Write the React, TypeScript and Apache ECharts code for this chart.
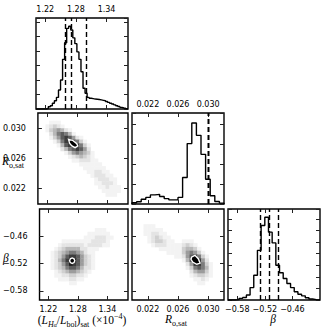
import React, { useEffect, useRef } from "react";
import * as echarts from "echarts";

// ---- axis ranges and tick values ----
const L_RANGE = [1.202, 1.382];
const R_RANGE = [0.0199, 0.0321];
const B_RANGE = [-0.6, -0.4];

const L_TICKS = [1.22, 1.28, 1.34];
const R_TICKS = [0.022, 0.026, 0.03];
const B_TICKS = [-0.58, -0.52, -0.46];

// ---- 1D histograms (normalised counts, bin edges start/step) ----
const L_HIST_START = 1.202;
const L_HIST_STEP = 0.004;
const L_HIST = [0, 0, 0, 0, 0, 0.005, 0.028, 0.04, 0.07, 0.1, 0.14, 0.23, 0.35, 0.6, 0.8, 0.975, 1.0, 0.955, 0.86, 0.79, 0.69, 0.6, 0.45, 0.25, 0.19, 0.14, 0.13, 0.125, 0.12, 0.118, 0.115, 0.11, 0.105, 0.1, 0.09, 0.08, 0.07, 0.06, 0.05, 0.04, 0.03, 0.02, 0.012, 0.006, 0.003];

const R_HIST_START = 0.0199;
const R_HIST_STEP = 0.00061;
const R_HIST = [0.016, 0.028, 0.057, 0.08, 0.11, 0.117, 0.09, 0.065, 0.05, 0.05, 0.08, 0.32, 0.73, 0.98, 0.83, 0.6, 0.3, 0.1, 0.03, 0.01];

const B_HIST_START = -0.6;
const B_HIST_STEP = 0.008;
const B_HIST = [0, 0, 0.005, 0.02, 0.03, 0.06, 0.15, 0.3, 0.6, 0.9, 1.0, 0.82, 0.69, 0.42, 0.33, 0.26, 0.2, 0.15, 0.1, 0.07, 0.05, 0.028, 0.012, 0.005, 0.002];

const HIST_MAX = 1.1;
const L_HIST_TICK_STEP = 0.175;
const R_HIST_TICK_STEP = 0.24;
const B_HIST_TICK_STEP = 0.14;

// ---- quantiles (dashed lines) ----
const L_QUANTILES = [1.2554, 1.273, 1.2959];
const R_QUANTILES = [0.02662, 0.02825, 0.02927];
const B_QUANTILES = [-0.5304, -0.512, -0.487];

// ---- 2D densities: rows from top (high y) to bottom, 24x24 cells, levels 0-9 ----
const DENSITY_CELLS = 24;
const DENSITY_L_R = [
  "000000000000000000000000",
  "000000000000000000000000",
  "000111000000000000000000",
  "001232100000000000000000",
  "001345421000000000000000",
  "000246764100000000000000",
  "000135787521000000000000",
  "000013689763100000000000",
  "000001478986310000000000",
  "000000246787520000000000",
  "000000013565431000000000",
  "000000001234321000000000",
  "000000000112221100000000",
  "000000000001111110000000",
  "000000000000111111000000",
  "000000000000011221100000",
  "000000000000001222110000",
  "000000000000000122211000",
  "000000000000000112221000",
  "000000000000000011211100",
  "000000000000000001111100",
  "000000000000000000111000",
  "000000000000000000000000",
  "000000000000000000000000",
];
const DENSITY_L_B = [
  "000000000000000000000000",
  "000000000000000000000000",
  "000000000000000000000000",
  "000000000000000000000000",
  "000000000000000000000000",
  "000000000000000111000000",
  "000000000000011111100000",
  "000000000000111222110000",
  "000000111111112222100000",
  "000001222222122221100000",
  "000012344442211100000000",
  "000123456654211000000000",
  "000123578875321000000000",
  "000124689975321000000000",
  "000123579875321000000000",
  "000123467764221000000000",
  "000012345543210000000000",
  "000011223322100000000000",
  "000001112211000000000000",
  "000000001100000000000000",
  "000000000000000000000000",
  "000000000000000000000000",
  "000000000000000000000000",
  "000000000000000000000000",
];
const DENSITY_R_B = [
  "000000000000000000000000",
  "000000000000000000000000",
  "000000000000000000000000",
  "000000000000000000000000",
  "000111000000000000000000",
  "000111110000000000000000",
  "000112211000000000000000",
  "000012321100000000000000",
  "000012332110011100000000",
  "000001222111123210000000",
  "000000011111134431000000",
  "000000000111135653100000",
  "000000000001125786310000",
  "000000000000014798520000",
  "000000000000002588631000",
  "000000000000001367641000",
  "000000000000000245531000",
  "000000000000000123321000",
  "000000000000000011210000",
  "000000000000000001100000",
  "000000000000000000000000",
  "000000000000000000000000",
  "000000000000000000000000",
  "000000000000000000000000",
];

// ---- innermost contours ----
const CONTOUR_L_R = [[1.2632, 0.02857], [1.2711, 0.02844], [1.2797, 0.02798], [1.2816, 0.02768], [1.2763, 0.02745], [1.2699, 0.02768], [1.2652, 0.02804]];
const CONTOUR_L_B = [[1.2738, -0.5136], [1.2722, -0.5094], [1.2685, -0.5076], [1.2648, -0.5094], [1.2632, -0.5136], [1.2648, -0.5178], [1.2685, -0.5196], [1.2722, -0.5178]];
const CONTOUR_R_B = [[0.02782, -0.5055], [0.02825, -0.5018], [0.02869, -0.5092], [0.02892, -0.5187], [0.02848, -0.5215], [0.02795, -0.5165], [0.02772, -0.5105]];

// ---- layout / style ----
const COL_LEFT = [36, 132, 228];
const ROW_TOP = [18, 113, 209];
const PANEL_W = 92;
const PANEL_H = 91;
const PALETTE = ["#ffffff", "#f3f3f3", "#e4e4e4", "#d0d0d0", "#b8b8b8", "#9c9c9c", "#7c7c7c", "#5c5c5c", "#3c3c3c", "#1e1e1e"];
const SANS = "DejaVu Sans";
const SERIF = "Liberation Serif";

const minus = (s: string) => s.replace("-", "\u2212");
const VARS: any = {
  L: { range: L_RANGE, ticks: L_TICKS, fmt: (v: number) => v.toFixed(2) },
  R: { range: R_RANGE, ticks: R_TICKS, fmt: (v: number) => v.toFixed(3) },
  B: { range: B_RANGE, ticks: B_TICKS, fmt: (v: number) => minus(v.toFixed(2)) },
};

function buildOption() {
  const grids: any[] = [];
  const xAxes: any[] = [];
  const yAxes: any[] = [];
  const series: any[] = [];

  const tickStyle = { color: "#222", width: 1 };

  function valueAxisBase(gi: number, pos: string, v: any, showLabel: boolean, margin: number) {
    return {
      type: "value",
      gridIndex: gi,
      position: pos,
      min: v.range[0],
      max: v.range[1],
      axisLine: { show: false, onZero: false },
      splitLine: { show: false },
      axisTick: { show: true, inside: true, length: 4, lineStyle: tickStyle, customValues: v.ticks },
      axisLabel: {
        show: showLabel,
        customValues: v.ticks,
        formatter: v.fmt,
        fontSize: 8,
        fontFamily: SANS,
        color: "#000",
        margin,
      },
    };
  }
  function histAxis(gi: number, pos: string, step: number) {
    return {
      type: "value",
      gridIndex: gi,
      position: pos,
      min: 0,
      max: HIST_MAX,
      interval: step,
      axisLine: { show: false, onZero: false },
      splitLine: { show: false },
      axisTick: { show: true, inside: true, length: 4, lineStyle: tickStyle },
      axisLabel: { show: false },
    };
  }

  function panel(row: number, col: number, xv: any, yv: any, histStep: number, labels: any) {
    const gi = grids.length;
    grids.push({
      left: COL_LEFT[col],
      top: ROW_TOP[row],
      width: PANEL_W,
      height: PANEL_H,
      show: true,
      borderColor: "#000",
      borderWidth: 1.4,
      backgroundColor: "rgba(0,0,0,0)",
    });
    const xi = xAxes.length;
    xAxes.push(valueAxisBase(gi, "bottom", xv, !!labels.bottom, 5));
    xAxes.push(valueAxisBase(gi, "top", xv, !!labels.top, 5));
    const yi = yAxes.length;
    if (yv) {
      yAxes.push(valueAxisBase(gi, "left", yv, !!labels.left, 12));
      yAxes.push(valueAxisBase(gi, "right", yv, false, 12));
    } else {
      yAxes.push(histAxis(gi, "left", histStep));
      yAxes.push(histAxis(gi, "right", histStep));
    }
    return { xi, yi };
  }

  function histSeries(ax: any, start: number, step: number, counts: number[], quants: number[]) {
    const pts: number[][] = [[start, 0]];
    counts.forEach((h, i) => pts.push([start + i * step, h]));
    const end = start + counts.length * step;
    pts.push([end, counts[counts.length - 1]]);
    pts.push([end, 0]);
    series.push({
      type: "line",
      xAxisIndex: ax.xi,
      yAxisIndex: ax.yi,
      data: pts,
      step: "end",
      symbol: "none",
      clip: true,
      z: 3,
      lineStyle: { color: "#000", width: 1.4 },
      markLine: {
        silent: true,
        symbol: ["none", "none"],
        label: { show: false },
        lineStyle: { color: "#000", type: [5, 3], width: 1.4 },
        data: quants.map((q) => ({ xAxis: q })),
      },
    });
  }

  function densitySeries(ax: any, grid: string[], xv: any, yv: any) {
    const dx = (xv.range[1] - xv.range[0]) / DENSITY_CELLS;
    const dy = (yv.range[1] - yv.range[0]) / DENSITY_CELLS;
    const data: number[][] = [];
    grid.forEach((row, r) =>
      row.split("").forEach((ch, c) => {
        const lev = Number(ch);
        if (lev > 0) data.push([xv.range[0] + (c + 0.5) * dx, yv.range[1] - (r + 0.5) * dy, lev]);
      })
    );
    series.push({
      type: "custom",
      xAxisIndex: ax.xi,
      yAxisIndex: ax.yi,
      data,
      clip: true,
      z: 1,
      renderItem: (params: any, api: any) => {
        const x = api.value(0);
        const y = api.value(1);
        const lev = api.value(2);
        const p0 = api.coord([x - dx / 2, y + dy / 2]);
        const p1 = api.coord([x + dx / 2, y - dy / 2]);
        return {
          type: "rect",
          shape: { x: p0[0], y: p0[1], width: p1[0] - p0[0] + 0.4, height: p1[1] - p0[1] + 0.4 },
          style: { fill: PALETTE[lev] },
        };
      },
    });
  }

  function contourSeries(ax: any, pts: number[][]) {
    series.push({
      type: "custom",
      xAxisIndex: ax.xi,
      yAxisIndex: ax.yi,
      data: pts,
      clip: true,
      z: 2,
      renderItem: (params: any, api: any) => {
        if (params.dataIndex !== 0) return { type: "group", children: [] };
        return {
          type: "polygon",
          shape: { points: pts.map((p) => api.coord(p)) },
          style: { fill: "#000", stroke: "#fff", lineWidth: 1.4 },
        };
      },
    });
  }

  const L = VARS.L, R = VARS.R, B = VARS.B;

  const p00 = panel(0, 0, L, null, L_HIST_TICK_STEP, { top: true });
  histSeries(p00, L_HIST_START, L_HIST_STEP, L_HIST, L_QUANTILES);

  const p10 = panel(1, 0, L, R, 0, { left: true });
  densitySeries(p10, DENSITY_L_R, L, R);
  contourSeries(p10, CONTOUR_L_R);

  const p11 = panel(1, 1, R, null, R_HIST_TICK_STEP, { top: true });
  histSeries(p11, R_HIST_START, R_HIST_STEP, R_HIST, R_QUANTILES);

  const p20 = panel(2, 0, L, B, 0, { left: true, bottom: true });
  densitySeries(p20, DENSITY_L_B, L, B);
  contourSeries(p20, CONTOUR_L_B);

  const p21 = panel(2, 1, R, B, 0, { bottom: true });
  densitySeries(p21, DENSITY_R_B, R, B);
  contourSeries(p21, CONTOUR_R_B);

  const p22 = panel(2, 2, B, null, B_HIST_TICK_STEP, { bottom: true });
  histSeries(p22, B_HIST_START, B_HIST_STEP, B_HIST, B_QUANTILES);

  const rich: any = {
    n: { fontFamily: SERIF, fontSize: 11.5, color: "#000", lineHeight: 16, verticalAlign: "middle" },
    i: { fontFamily: SERIF, fontSize: 11.5, fontStyle: "italic", color: "#000", lineHeight: 16, verticalAlign: "middle" },
    sub: { fontFamily: SERIF, fontSize: 8, color: "#000", lineHeight: 8, verticalAlign: "bottom" },
    subi: { fontFamily: SERIF, fontSize: 8, fontStyle: "italic", color: "#000", lineHeight: 8, verticalAlign: "bottom" },
    subsub: { fontFamily: SERIF, fontSize: 6, fontStyle: "italic", color: "#000", lineHeight: 3, verticalAlign: "bottom" },
    sup: { fontFamily: SERIF, fontSize: 8, color: "#000", lineHeight: 8, verticalAlign: "top" },
  };
  const label = (x: number, y: number, text: string, align: string) => ({
    type: "text",
    x,
    y,
    silent: true,
    style: { text, rich, align, verticalAlign: "middle" },
  });

  const graphic = [
    label(82, 320, "{n|(}{i|L}{subi|H}{subsub|α}{n|/}{i|L}{sub|bol}{n|)}{sub|sat}{n| (×10}{sup|\u22124}{n|)}", "center"),
    label(176, 319, "{i|R}{sub|o,sat}", "center"),
    label(273, 319, "{i|β}", "center"),
    label(2, 161, "{i|R}{sub|o,sat}", "left"),
    label(3, 258, "{i|β}", "left"),
  ];

  return {
    animation: false,
    backgroundColor: "#ffffff",
    grid: grids,
    xAxis: xAxes,
    yAxis: yAxes,
    series,
    graphic,
  };
}

export default function App() {
  const ref = useRef<HTMLDivElement>(null);
  useEffect(() => {
    if (!ref.current) return;
    const chart = echarts.init(ref.current, undefined, { renderer: "svg" });
    chart.setOption(buildOption() as any);
    return () => chart.dispose();
  }, []);
  return <div ref={ref} style={{ position: "fixed", left: 0, top: 0, width: 330, height: 330 }} />;
}
